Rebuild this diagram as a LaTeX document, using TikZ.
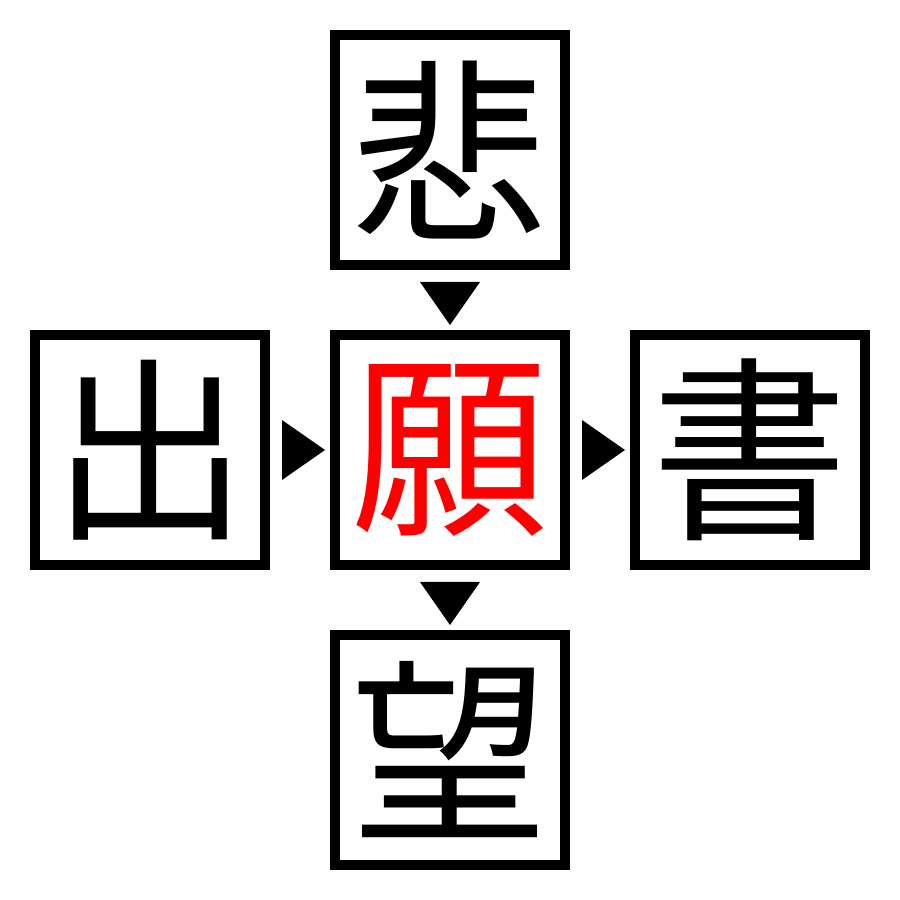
\documentclass[tikz,border=0pt]{standalone}
\usepackage{fontspec}
\newfontfamily\cjk{Noto Sans CJK JP}
\usetikzlibrary{positioning,calc}

\begin{document}
\begin{tikzpicture}[line width=1mm,
  kanji/.style={draw, minimum size=2.3cm, inner sep=0pt,
    font=\cjk\fontsize{56}{56}\selectfont}]
\useasboundingbox (0,0) rectangle (9,9);

\node[kanji, text=red] (wish) at (4.5,4.5) {願};
\node[kanji, above=0.6cm of wish] (sad) {悲};
\node[kanji, below=0.6cm of wish] (hope) {望};
\node[kanji, left=0.6cm of wish] (out) {出};
\node[kanji, right=0.6cm of wish] (book) {書};

\coordinate (t1) at ($(sad.south)!0.5!(wish.north)$);
\coordinate (t2) at ($(wish.south)!0.5!(hope.north)$);
\coordinate (t3) at ($(out.east)!0.5!(wish.west)$);
\coordinate (t4) at ($(wish.east)!0.5!(book.west)$);

\fill (t1) ++(-0.3,0.18) -- ++(0.6,0) -- ++(-0.3,-0.43) -- cycle;
\fill (t2) ++(-0.3,0.18) -- ++(0.6,0) -- ++(-0.3,-0.43) -- cycle;
\fill (t3) ++(-0.18,0.3) -- ++(0,-0.6) -- ++(0.43,0.3) -- cycle;
\fill (t4) ++(-0.18,0.3) -- ++(0,-0.6) -- ++(0.43,0.3) -- cycle;
\end{tikzpicture}
\end{document}
